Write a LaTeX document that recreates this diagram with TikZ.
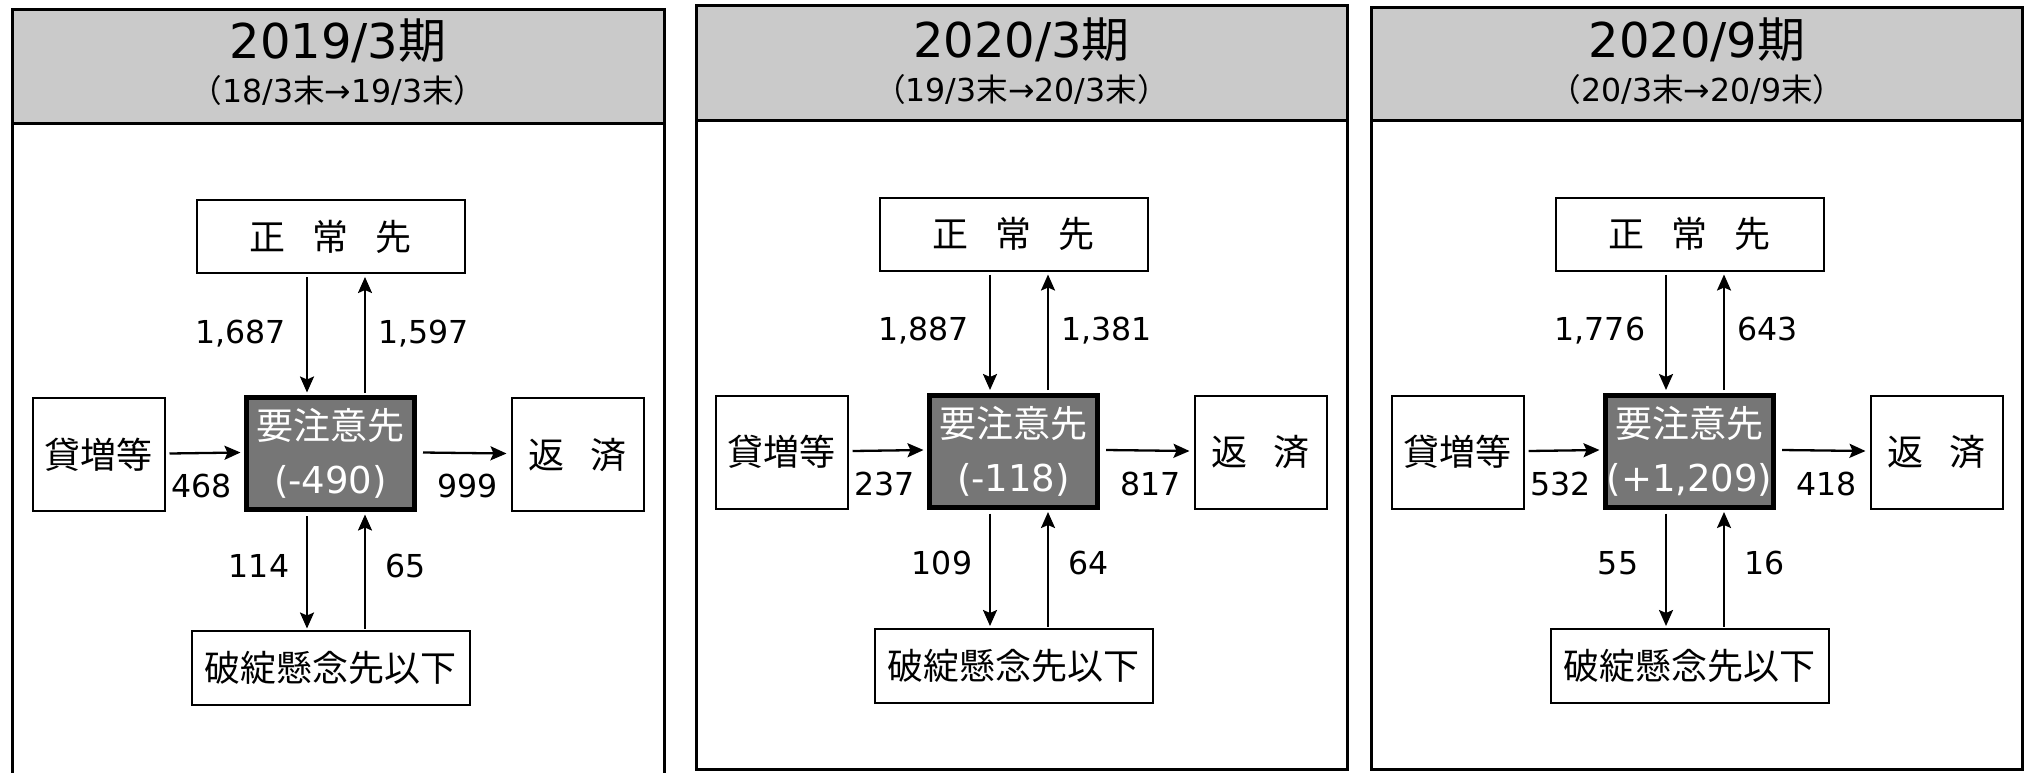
\documentclass[tikz,border=0pt]{standalone}
\usepackage{fontspec}
\setmainfont{DejaVu Sans}
\newfontfamily\cjk{Noto Sans CJK JP}
\usetikzlibrary{arrows.meta,calc}
\definecolor{hdrgray}{RGB}{202,202,202}
\definecolor{cfill}{RGB}{118,118,118}
\begin{document}
\begin{tikzpicture}[x=0.5pt,y=-0.5pt,
  frame/.style={draw=black,line width=1.5pt},
  hdr/.style={frame,fill=hdrgray},
  body/.style={frame,fill=white},
  ttl/.style={anchor=base,inner sep=0pt,font=\fontsize{24pt}{28pt}\selectfont},
  subttl/.style={anchor=base,inner sep=0pt,font=\fontsize{15.8pt}{18pt}\selectfont},
  bx/.style={draw=black,line width=1pt,fill=white,inner sep=0pt,align=center,
    font=\fontsize{18pt}{22pt}\selectfont},
  tbox/.style={bx,minimum width=134pt,minimum height=36.5pt},
  sbox/.style={bx,minimum width=66pt,minimum height=56.5pt},
  bbox/.style={bx,minimum width=139pt,minimum height=37pt},
  cbox/.style={draw=black,line width=2.5pt,fill=cfill,text=white,inner sep=0pt,
    align=center,minimum width=84pt,minimum height=56pt,
    font=\fontsize{18.5pt}{27pt}\selectfont},
  lbl/.style={inner sep=0pt,font=\fontsize{15.8pt}{18pt}\selectfont},
  arr/.style={line width=1.15pt,-{Stealth[length=8pt,width=7pt,inset=1.5pt]}}]
\useasboundingbox (0,0) rectangle (2032,772);
% panel frames
\draw[body] (12.5,123) rectangle (664,800);
\draw[hdr] (12.5,9) rectangle (664,123);
\draw[body] (696.5,120) rectangle (1347,769.5);
\draw[hdr] (696.5,5.5) rectangle (1347,120);
\draw[body] (1371.5,120) rectangle (2022.5,769.5);
\draw[hdr] (1371.5,7.5) rectangle (2022.5,120);
% titles
\node[ttl] (t1) at (338,58) {2019/3{\cjk 期}};
\node[subttl] (s1) at (338,102) {{\cjk （}18/3{\cjk 末}→19/3{\cjk 末}{\cjk ）}};
\node[ttl] (t2) at (1021.5,57) {2020/3{\cjk 期}};
\node[subttl] (s2) at (1021.5,101) {{\cjk （}19/3{\cjk 末}→20/3{\cjk 末}{\cjk ）}};
\node[ttl] (t3) at (1697,57) {2020/9{\cjk 期}};
\node[subttl] (s3) at (1697,101) {{\cjk （}20/3{\cjk 末}→20/9{\cjk 末}{\cjk ）}};
% diagrams
\foreach \n/\cx/\cy/\v/\a/\b/\c/\d/\e/\f in {
  p1/330.5/453.5/{(-490)}/{1,687}/{1,597}/468/999/114/65,
  p2/1013.5/451/{(-118)}/{1,887}/{1,381}/237/817/109/64,
  p3/1689.5/451/{(+1,209)}/{1,776}/643/532/418/55/16}{
  \node[cbox] (\n-c) at (\cx,\cy) {{\cjk 要注意先}\\\v};
  \node[tbox] (\n-t) at (\cx,\cy-217) {\cjk 正\hspace{0.75em}常\hspace{0.75em}先};
  \node[sbox] (\n-l) at (\cx-232,\cy+1) {\cjk 貸増等};
  \node[sbox] (\n-r) at (\cx+247,\cy+1) {\cjk 返\hspace{0.72em}済};
  \node[bbox] (\n-b) at (\cx,\cy+214.5) {\cjk 破綻懸念先以下};
  \draw[arr] ($(\n-t.south)+(-23.5,3)$) -- ($(\n-c.north)+(-23.5,-2.5)$);
  \draw[arr] ($(\n-c.north)+(34.5,-2.5)$) -- ($(\n-t.south)+(34.5,3)$);
  \draw[arr] ($(\n-l.east)+(4,-1)$) -- ($(\n-c.west)+(-3.5,-1)$);
  \draw[arr] ($(\n-c.east)+(6,-1)$) -- ($(\n-r.west)+(-4,-1)$);
  \draw[arr] ($(\n-c.south)+(-23.5,4)$) -- ($(\n-b.north)+(-23.5,-1.5)$);
  \draw[arr] ($(\n-b.north)+(34.5,-1)$) -- ($(\n-c.south)+(34.5,2.5)$);
  \node[lbl,anchor=base east] (\n-la) at (\cx-44,\cy-110.5) {\a};
  \node[lbl,anchor=base west] (\n-lb) at (\cx+47.5,\cy-110.5) {\b};
  \node[lbl,anchor=base east] (\n-lc) at (\cx-98.5,\cy+44) {\c};
  \node[lbl,anchor=base west] (\n-ld) at (\cx+106.5,\cy+44) {\d};
  \node[lbl,anchor=base] (\n-le) at (\cx-71.5,\cy+123.5) {\e};
  \node[lbl,anchor=base west] (\n-lf) at (\cx+54.5,\cy+123.5) {\f};
}
\end{tikzpicture}
\end{document}
